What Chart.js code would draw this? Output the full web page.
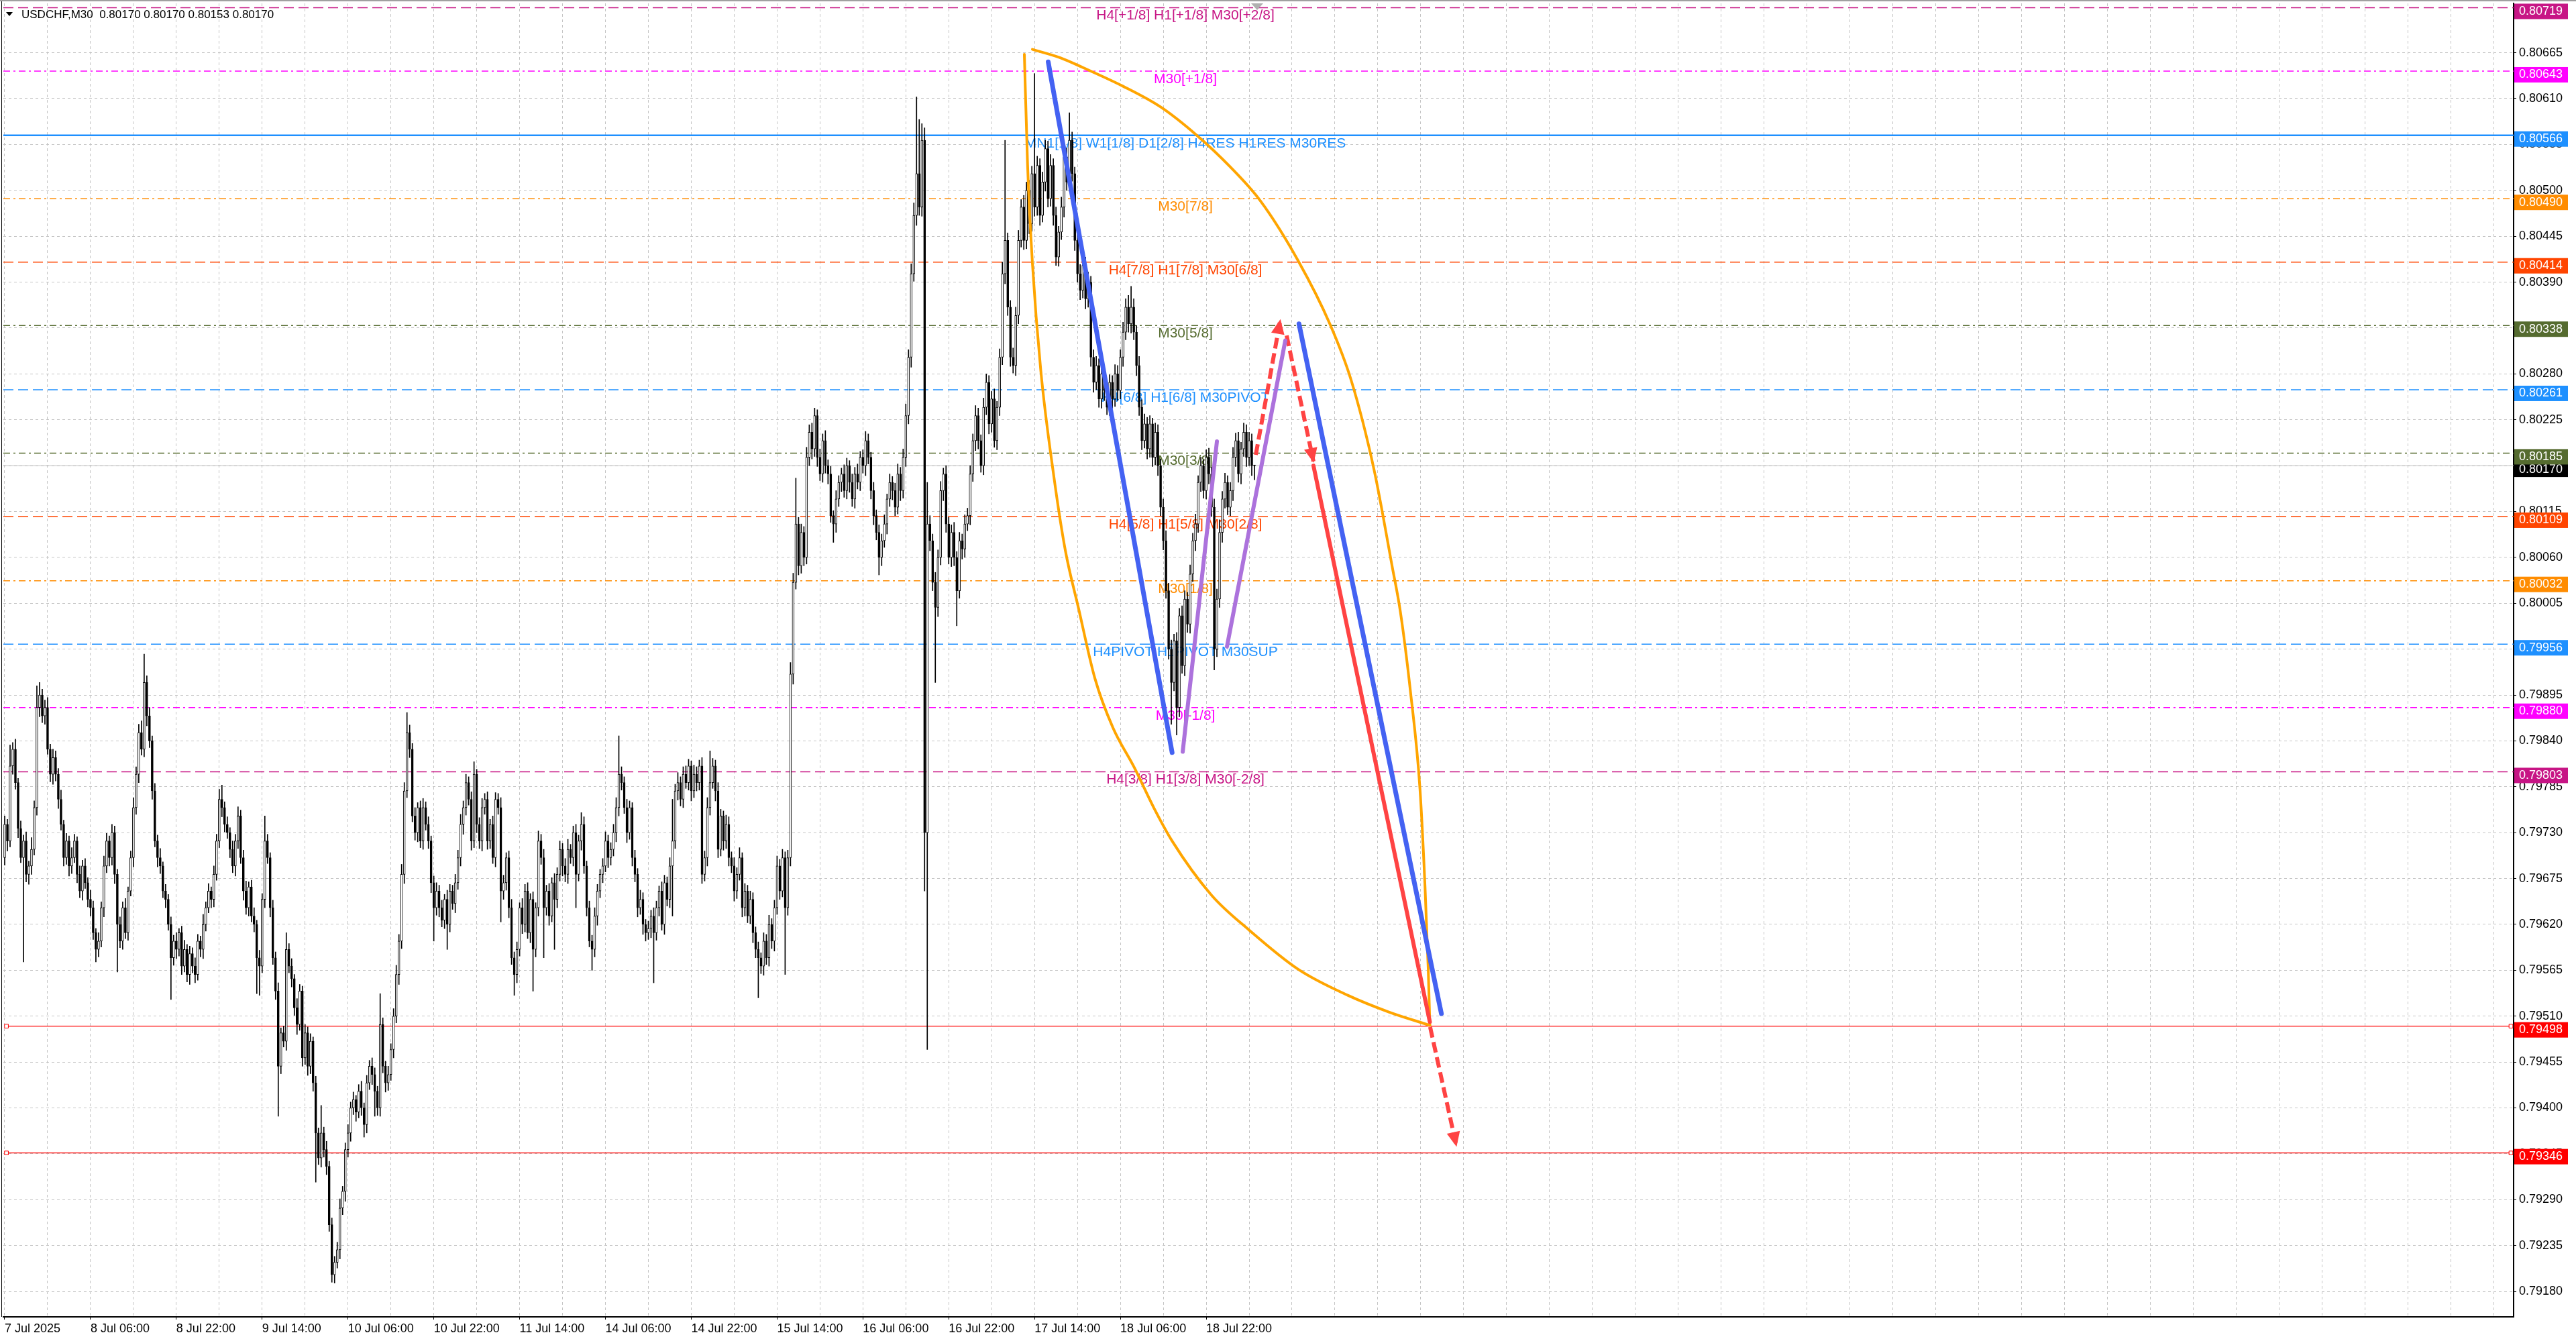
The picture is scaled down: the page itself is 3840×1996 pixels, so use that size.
<!DOCTYPE html>
<html>
<head>
<meta charset="utf-8">
<title>USDCHF,M30</title>
<style>
  html, body { margin: 0; padding: 0; background: #fff; overflow: hidden; }
  canvas { display: block; }
</style>
</head>
<body>
<canvas id="chart" width="3840" height="1996"></canvas>

<script src="https://cdn.jsdelivr.net/npm/chart.js"></script>

<script>
  // ---- data (prices in points, 1 point = 0.00001) ----
  const firstOpen = 79700;
  const closes = [
    79740,79720,79810,79830,79790,79735,79700,79720,79680,79690,79710,79760,79880,79895,79870,79880,79830,79800,79820,79800,
    79770,79740,79700,79720,79690,79700,79720,79680,79660,79690,79670,79650,79640,79610,79590,79600,79640,79690,79720,79700,
    79730,79680,79620,79600,79640,79610,79660,79700,79760,79800,79850,79830,79910,79870,79840,79780,79720,79700,79690,79660,
    79650,79620,79580,79600,79590,79610,79570,79590,79560,79585,79570,79560,79600,79590,79620,79640,79660,79650,79680,79720,
    79770,79760,79740,79730,79710,79690,79720,79750,79700,79660,79640,79665,79630,79620,79580,79570,79650,79720,79700,79640,
    79580,79540,79450,79490,79480,79590,79570,79555,79520,79500,79540,79460,79490,79450,79480,79430,79370,79340,79370,79350,
    79330,79260,79200,79215,79230,79280,79300,79350,79370,79400,79410,79395,79420,79400,79380,79430,79450,79440,79420,79400,
    79500,79450,79430,79440,79470,79510,79560,79600,79680,79780,79850,79830,79750,79730,79760,79720,79760,79740,79720,79670,
    79640,79660,79640,79625,79650,79620,79660,79645,79670,79700,79740,79760,79790,79770,79720,79800,79740,79720,79760,79770,
    79720,79740,79700,79770,79760,79660,79670,79700,79640,79580,79560,79590,79640,79620,79660,79610,79650,79590,79640,79720,
    79700,79640,79660,79630,79670,79650,79680,79710,79690,79680,79710,79700,79730,79680,79720,79740,79690,79640,79600,79590,
    79630,79660,79680,79690,79720,79700,79710,79730,79760,79800,79790,79760,79730,79760,79700,79680,79640,79650,79620,79610,
    79615,79630,79610,79640,79660,79620,79670,79650,79690,79720,79780,79790,79770,79800,79790,79810,79780,79800,79790,79810,
    79680,79700,79760,79790,79810,79780,79710,79750,79720,79740,79700,79690,79660,79680,79700,79640,79660,79630,79650,79610,
    79590,79580,79570,79600,79580,79620,79600,79640,79690,79660,79700,79640,79700,79920,80030,80100,80050,80090,80060,80180,
    80210,80190,80230,80180,80160,80200,80170,80160,80110,80100,80130,80150,80160,80140,80170,80150,80130,80160,80150,80180,
    80170,80200,80180,80140,80110,80090,80060,80080,80100,80130,80150,80140,80120,80160,80140,80180,80230,80300,80400,80470,
    80520,80480,80560,79730,80100,80080,80030,80000,80060,80140,80160,80100,80060,80090,80060,80020,80080,80070,80100,80110,
    80160,80200,80230,80200,80170,80240,80270,80220,80250,80200,80240,80300,80400,80440,80360,80300,80290,80350,80440,80480,
    80440,80500,80460,80520,80480,80530,80470,80510,80550,80490,80530,80470,80420,80450,80480,80540,80510,80560,80520,80440,
    80400,80380,80410,80370,80390,80300,80270,80290,80250,80280,80260,80240,80270,80250,80280,80260,80300,80330,80360,80340,
    80360,80330,80290,80240,80200,80220,80190,80220,80180,80210,80170,80120,80080,80020,79950,79910,79960,79880,79990,79930,
    80010,79980,80040,80080,80100,80150,80170,80140,80180,80160,80120,79950,80010,80090,80130,80150,80120,80140,80180,80200,
    80160,80190,80210,80180,80200,80170,80170
  ];
  // upper / lower shadow length above / below the body, in points
  const wickHi = [
    10,6,25,8,12,5,9,7,11,6,14,8,26,15,7,9,12,6,10,8,
    7,11,5,9,6,12,8,5,10,7,9,6,11,8,5,10,7,12,9,6,
    10,8,6,9,7,11,5,8,12,9,10,14,34,8,10,6,9,7,11,5,
    8,6,9,7,10,5,8,11,6,9,7,10,8,6,12,7,9,5,10,8,
    12,17,7,9,6,10,8,11,7,9,12,6,8,10,5,9,7,30,8,6,
    9,7,10,6,8,20,7,9,5,11,8,6,10,7,9,5,8,6,33,7,
    10,6,8,7,9,11,6,8,10,7,9,5,8,12,6,9,7,10,8,6,
    37,8,6,10,7,9,11,8,12,10,24,9,7,10,6,8,11,7,9,6,
    8,10,7,9,6,11,8,7,10,9,12,8,10,7,9,15,6,8,11,7,
    9,6,10,8,7,12,9,6,8,10,7,9,6,11,8,10,7,9,6,12,
    8,10,7,9,6,11,8,10,7,9,12,6,8,10,7,14,9,6,8,7,
    10,8,6,9,11,7,8,10,12,46,9,7,10,8,6,9,7,11,8,6,
    9,7,10,8,6,11,9,7,10,50,8,12,7,9,10,8,6,11,9,7,
    10,8,12,38,9,7,10,8,6,11,9,7,10,8,12,6,9,7,10,8,
    7,9,6,10,8,11,7,9,12,8,10,7,9,14,11,55,8,10,7,12,
    9,11,9,7,10,8,12,7,9,6,10,8,7,11,9,6,10,8,12,7,
    9,11,8,6,10,7,9,8,11,6,10,7,9,12,8,10,14,9,12,15,
    92,65,20,15,50,10,8,12,9,11,7,10,8,9,12,7,10,8,11,9,
    10,8,12,9,7,11,10,8,9,12,7,10,14,120,9,8,11,10,12,9,
    14,10,12,9,120,11,8,12,10,9,13,8,10,7,12,9,11,33,10,8,
    9,11,8,10,12,7,9,11,8,10,7,12,9,8,11,10,9,12,10,14,
    25,10,8,11,9,12,8,10,7,11,9,8,10,12,9,11,8,10,9,12,
    10,8,11,9,12,8,10,7,9,11,8,10,12,15,9,11,8,10,12,9,
    10,8,11,9,10,8,0
  ];
  const wickLo = [
    9,12,7,10,8,11,6,125,9,12,10,7,9,11,8,10,6,9,12,8,
    11,7,10,8,12,9,6,10,8,11,7,9,10,8,15,9,7,11,8,10,
    9,11,57,8,10,7,9,6,11,8,10,7,9,12,8,10,7,11,9,8,
    10,7,50,9,11,8,10,7,9,12,8,10,7,9,11,8,6,10,9,7,
    8,11,9,7,10,8,12,9,7,11,8,10,7,9,43,35,8,10,7,11,
    8,10,60,9,7,11,8,10,9,12,7,10,8,11,9,10,59,8,11,9,
    10,8,9,10,7,11,8,12,9,10,8,11,7,9,15,10,8,12,30,9,
    10,8,11,9,7,10,8,12,9,11,8,10,7,9,11,8,10,7,9,12,
    40,9,11,8,10,30,9,7,11,8,10,12,9,7,11,8,10,9,12,8,
    10,9,7,11,8,37,10,9,12,8,25,10,8,11,9,7,12,50,9,10,
    8,60,9,11,7,60,10,8,12,9,11,7,10,40,8,11,9,10,7,25,
    9,11,8,10,7,12,9,8,11,10,9,7,12,8,10,9,11,8,12,10,
    8,11,60,9,10,7,12,8,10,60,9,11,8,10,7,9,12,8,10,9,
    11,8,10,9,7,12,10,8,11,9,10,8,12,9,7,11,10,8,9,12,
    10,48,9,11,8,10,9,12,8,10,7,80,9,10,12,8,11,9,10,8,
    10,12,9,11,8,10,9,12,8,22,10,9,11,8,10,12,9,11,8,10,
    9,12,8,10,11,9,21,10,8,12,9,11,10,8,12,9,11,10,12,9,
    12,10,11,70,260,12,10,90,11,9,12,10,8,11,10,42,9,12,10,8,
    11,9,12,10,8,11,9,12,10,8,11,10,9,12,10,11,9,12,10,8,
    11,10,12,9,11,10,12,8,11,10,9,12,10,11,9,12,10,11,9,12,
    10,11,9,12,10,11,12,9,10,11,12,9,10,11,9,12,10,11,9,10,
    11,9,12,10,11,9,12,10,11,9,12,10,11,9,12,50,10,33,11,9,
    12,10,11,9,12,10,11,9,10,12,11,25,9,10,12,11,9,10,12,11,
    10,12,9,11,10,12,17
  ];

  const xLabels = ['7 Jul 2025', '8 Jul 06:00', '8 Jul 22:00', '9 Jul 14:00', '10 Jul 06:00',
    '10 Jul 22:00', '11 Jul 14:00', '14 Jul 06:00', '14 Jul 22:00', '15 Jul 14:00',
    '16 Jul 06:00', '16 Jul 22:00', '17 Jul 14:00', '18 Jul 06:00', '18 Jul 22:00'];
  const barsPerLabel = 32;
  const barsPerGrid = 16;
  const yTicks = [0.79180, 0.79235, 0.79290, 0.79345, 0.79400, 0.79455, 0.79510, 0.79565,
    0.79620, 0.79675, 0.79730, 0.79785, 0.79840, 0.79895, 0.79950, 0.80005, 0.80060,
    0.80115, 0.80170, 0.80225, 0.80280, 0.80335, 0.80390, 0.80445, 0.80500, 0.80555,
    0.80610, 0.80665];

  // Murrey-style levels
  const levelPrices = [0.80719, 0.80643, 0.80566, 0.80490, 0.80414, 0.80338, 0.80261,
    0.80185, 0.80109, 0.80032, 0.79956, 0.79880, 0.79803];
  const levelNames = ['H4[+1/8] H1[+1/8] M30[+2/8]', 'M30[+1/8]',
    'MN1[1/8] W1[1/8] D1[2/8] H4RES H1RES M30RES', 'M30[7/8]',
    'H4[7/8] H1[7/8] M30[6/8]', 'M30[5/8]', 'H4[6/8] H1[6/8] M30PIVOT', 'M30[3/8]',
    'H4[5/8] H1[5/8] M30[2/8]', 'M30[1/8]', 'H4PIVOT H1PIVOT M30SUP', 'M30[-1/8]',
    'H4[3/8] H1[3/8] M30[-2/8]'];
  const levelColors = ['#C71585', '#FF00FF', '#1E90FF', '#FF8C00', '#FF4500', '#556B2F',
    '#1E90FF', '#556B2F', '#FF4500', '#FF8C00', '#1E90FF', '#FF00FF', '#C71585'];
  const levelStyles = ['dash', 'dashdot', 'solid', 'dashdot', 'dash', 'dashdot', 'dash',
    'dashdot', 'dash', 'dashdot', 'dash', 'dashdot', 'dash'];
  const levelLabelBar = 440.25;
  const targetLevels = [0.79498, 0.79346];
  const currentPrice = 0.80170;
  const headerText = 'USDCHF,M30  0.80170 0.80170 0.80153 0.80170';

  // drawn objects, [bar, price]
  const arcLeft = [[380.2, 0.80663], [381.4, 0.80531], [383.2, 0.80413], [386.3, 0.80285],
    [391.2, 0.80157], [395.5, 0.80068], [400.4, 0.79999], [406.5, 0.79915], [413.2, 0.79856],
    [421.2, 0.79808], [428.6, 0.79759], [435.3, 0.79720], [450.0, 0.79655], [464.1, 0.79613],
    [482.4, 0.79566], [500.8, 0.79535], [516.1, 0.79515], [531.4, 0.79499]];
  const arcRight = [[383.2, 0.80669], [393.6, 0.80659], [402.2, 0.80647], [416.9, 0.80625],
    [431.0, 0.80600], [444.5, 0.80566], [456.7, 0.80529], [468.3, 0.80487], [482.4, 0.80415],
    [494.1, 0.80340], [502.0, 0.80273], [510.6, 0.80165], [517.3, 0.80050], [520.4, 0.79995],
    [524.1, 0.79901], [527.7, 0.79783], [529.6, 0.79665], [530.8, 0.79566], [531.4, 0.79499]];
  const blueLines = [[[389.1, 0.80654], [435.3, 0.79826]], [[482.6, 0.80340], [535.7, 0.79513]]];
  const purpleLines = [[[439.25, 0.79827], [452.0, 0.80199]], [[455.75, 0.79953], [477.5, 0.80320]]];
  const redSolid = [[488.0, 0.80170], [531.4, 0.79503]];
  const redArrows = [[[466.5, 0.80183], [475.6, 0.80344]], [[478.0, 0.80326], [488.0, 0.80175]],
    [[531.5, 0.79497], [541.25, 0.79355]]];

  // ---- build datasets ----
  const P = 1e5;
  const X_MIN = -0.5, X_MAX = 935.5;
  const Y_MIN = 0.791495, Y_MAX = 0.807242;
  const FONT = "'Liberation Sans', Arial, sans-serif";
  Chart.defaults.font.family = FONT;

  const bodyData = [], bodyColors = [], wickData = [];
  closes.forEach((c, i) => {
    const o = i === 0 ? firstOpen : closes[i - 1];
    const top = Math.max(o, c), bot = Math.min(o, c);
    bodyData.push({ x: i, y: [bot / P, top / P] });
    bodyColors.push(c > o ? '#ffffff' : '#000000');
    wickData.push({ x: i, y: [(bot - wickLo[i]) / P, (top + wickHi[i]) / P] });
  });

  const dashes = { solid: [], dash: [15, 7], dashdot: [10, 5, 3, 5] };
  const toXY = pts => pts.map(([x, y]) => ({ x, y }));
  const line = (pts, color, width, dash, extra) => Object.assign({
    type: 'line', data: toXY(pts), borderColor: color, borderWidth: width,
    borderDash: dash || [], pointRadius: 0, order: 1, borderCapStyle: 'round'
  }, extra || {});

  const datasets = [];
  levelPrices.forEach((p, k) => datasets.push(line([[X_MIN, p], [X_MAX, p]], levelColors[k],
    levelStyles[k] === 'solid' ? 2.5 : 1.5, dashes[levelStyles[k]], { order: 10, borderCapStyle: 'butt' })));
  datasets.push(line([[X_MIN, currentPrice], [X_MAX, currentPrice]], '#c0c0c0', 1, [], { order: 10 }));
  targetLevels.forEach(p => datasets.push(line([[0.65, p], [934.5, p]], '#ff0000', 1.3, [], {
    order: 10, pointRadius: 4, pointStyle: 'rect', pointBackgroundColor: '#ffffff',
    pointBorderColor: '#ff0000', pointBorderWidth: 1
  })));

  const WICK_INDEX = datasets.length;
  datasets.push({ type: 'bar', data: wickData, backgroundColor: '#000000', barThickness: 1,
    grouped: false, order: 5 });
  datasets.push({ type: 'bar', data: bodyData, backgroundColor: bodyColors, borderColor: '#000000',
    borderWidth: 1, borderSkipped: false, barThickness: 3, grouped: false, minBarLength: 1, order: 4 });

  datasets.push(line(arcLeft, '#FFA500', 4, [], { cubicInterpolationMode: 'monotone', order: 3 }));
  datasets.push(line(arcRight, '#FFA500', 4, [], { cubicInterpolationMode: 'monotone', order: 3 }));
  blueLines.forEach(l => datasets.push(line(l, '#4462F2', 7)));
  purpleLines.forEach(l => datasets.push(line(l, '#AC72DC', 6)));
  datasets.push(line(redSolid, '#FF4343', 6));
  redArrows.forEach(l => datasets.push(line(l, '#FF4343', 6, [16, 7], { borderCapStyle: 'butt' })));

  // ---- overlay plugin: level texts, price boxes, arrowheads, header ----
  const overlay = {
    id: 'overlay',
    beforeDatasetDraw(chart, args) {
      if (args.index !== WICK_INDEX) return;
      const { ctx, scales: { x, y } } = chart;
      ctx.save();
      ctx.font = '21px ' + FONT;
      ctx.textAlign = 'center';
      ctx.textBaseline = 'alphabetic';
      const cx = x.getPixelForValue(levelLabelBar);
      levelPrices.forEach((p, k) => {
        ctx.fillStyle = levelColors[k];
        ctx.fillText(levelNames[k], cx, y.getPixelForValue(p) + 18);
      });
      ctx.restore();
    },
    afterDatasetsDraw(chart) {
      const { ctx, scales: { x, y } } = chart;
      ctx.save();
      ctx.fillStyle = '#FF4343';
      redArrows.forEach(([a, b]) => {
        const x1 = x.getPixelForValue(a[0]), y1 = y.getPixelForValue(a[1]);
        const x2 = x.getPixelForValue(b[0]), y2 = y.getPixelForValue(b[1]);
        ctx.save();
        ctx.translate(x2, y2);
        ctx.rotate(Math.atan2(y2 - y1, x2 - x1));
        ctx.beginPath();
        ctx.moveTo(2, 0);
        ctx.lineTo(-20, -10);
        ctx.lineTo(-20, 10);
        ctx.closePath();
        ctx.fill();
        ctx.restore();
      });
      ctx.restore();
    },
    afterDraw(chart) {
      const { ctx, chartArea: area, scales: { x, y } } = chart;
      ctx.save();
      // window frame
      ctx.fillStyle = '#a0a0a0';
      ctx.fillRect(0, 0, chart.width, 2);
      ctx.fillStyle = '#000';
      ctx.fillRect(2, 2, 1, area.bottom - 2);
      // chart shift marker
      const sx = x.getPixelForValue(closes.length);
      ctx.fillStyle = '#b0b0b0';
      ctx.beginPath();
      ctx.moveTo(sx - 9, 5); ctx.lineTo(sx + 9, 5); ctx.lineTo(sx, 15);
      ctx.closePath(); ctx.fill();
      // header
      ctx.fillStyle = '#000';
      ctx.beginPath();
      ctx.moveTo(9, 18); ctx.lineTo(19, 18); ctx.lineTo(14, 24);
      ctx.closePath(); ctx.fill();
      ctx.font = '17px ' + FONT;
      ctx.textAlign = 'left';
      ctx.textBaseline = 'alphabetic';
      ctx.fillText(headerText, 32, 27);
      // price boxes on the axis
      ctx.font = '18px ' + FONT;
      ctx.textBaseline = 'middle';
      const box = (p, bg) => {
        const py = y.getPixelForValue(p);
        ctx.fillStyle = bg;
        ctx.fillRect(area.right + 1, py - 6, 80, 23);
        ctx.fillStyle = '#ffffff';
        ctx.fillText(p.toFixed(5), area.right + 8, py + 5.5);
      };
      box(currentPrice, '#000000');
      levelPrices.forEach((p, k) => box(p, levelColors[k]));
      targetLevels.forEach(p => box(p, '#FF0000'));
      ctx.restore();
    }
  };

  const isLabelBar = v => v % barsPerLabel === 0 && v / barsPerLabel < xLabels.length;

  new Chart(document.getElementById('chart'), {
    type: 'bar',
    data: { datasets },
    options: {
      responsive: false,
      animation: false,
      devicePixelRatio: 1,
      layout: { padding: { left: 3, top: 4, right: 0, bottom: 0 } },
      plugins: { legend: { display: false }, tooltip: { enabled: false } },
      scales: {
        x: {
          type: 'linear', position: 'bottom', min: X_MIN, max: X_MAX, offset: false,
          afterBuildTicks: s => {
            const t = [];
            for (let v = 0; v <= X_MAX; v += barsPerGrid) t.push({ value: v });
            s.ticks = t;
          },
          afterFit: s => { s.height = 33; s.paddingLeft = 0; s.paddingRight = 0; },
          grid: {
            offset: false, color: '#c4c4c4', lineWidth: 1, tickLength: 4, tickWidth: 1,
            tickColor: c => (c.tick && isLabelBar(c.tick.value)) ? '#000000' : 'rgba(0,0,0,0)'
          },
          border: { display: true, color: '#000000', width: 2, dash: [4, 4] },
          ticks: {
            autoSkip: false, maxRotation: 0, minRotation: 0, align: 'start', padding: 3,
            color: '#000000', font: { size: 18 },
            callback: v => isLabelBar(v) ? xLabels[v / barsPerLabel] : ''
          }
        },
        y: {
          type: 'linear', position: 'right', min: Y_MIN, max: Y_MAX,
          afterBuildTicks: s => { s.ticks = yTicks.map(v => ({ value: v })); },
          afterFit: s => { s.width = 93; s.paddingTop = 0; s.paddingBottom = 0; },
          grid: { color: '#c4c4c4', lineWidth: 1, tickLength: 4, tickColor: '#000000' },
          border: { display: true, color: '#000000', width: 2, dash: [4, 4] },
          ticks: { color: '#000000', font: { size: 18 }, padding: 4, callback: v => v.toFixed(5) }
        }
      }
    },
    plugins: [overlay]
  });
</script>
</body>
</html>
